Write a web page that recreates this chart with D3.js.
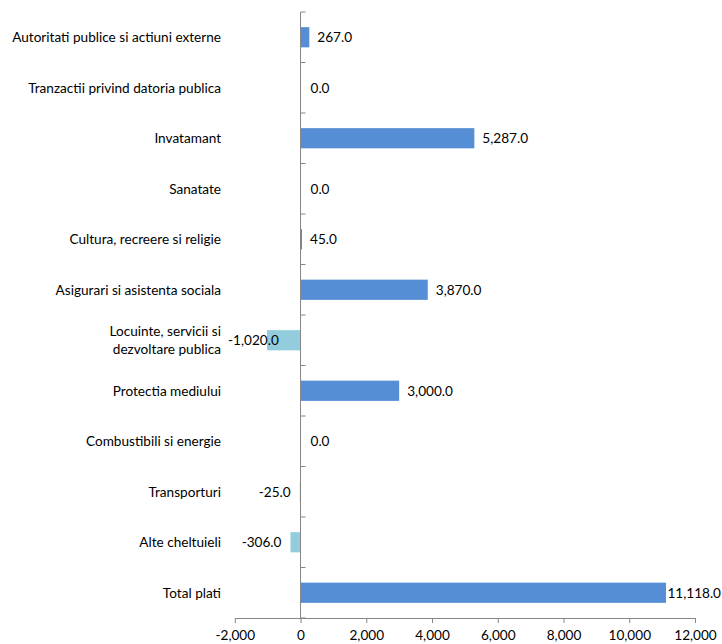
<!DOCTYPE html>
<html><head><meta charset="utf-8">
<script src="https://cdn.jsdelivr.net/npm/d3@7"></script>
<style>body{margin:0;background:#fff}svg{display:block}</style>
</head><body>
<svg id="c" width="722" height="644"></svg>
<script>
const categories = ["Autoritati publice si actiuni externe","Tranzactii privind datoria publica","Invatamant","Sanatate","Cultura, recreere si religie ","Asigurari si asistenta sociala","Locuinte, servicii si|dezvoltare publica","Protectia mediului","Combustibili si energie","Transporturi","Alte cheltuieli","Total plati"];
const values = [267,0,5287,0,45,3870,-1020,3000,0,-25,-306,11118];
const xTicks = [-2000,0,2000,4000,6000,8000,10000,12000];

(function(){
const FONT = "Lato, 'Open Sans', sans-serif";
const FS = 13.6;
const svg = d3.select("#c");
const x = d3.scaleLinear().domain([-2000,12000]).range([234.8,695]);
const y = d3.scaleBand().domain(d3.range(categories.length)).range([12,618]).paddingInner(0.6).paddingOuter(0.3);
const grey = "#868686";
const fmt = v => d3.format(",.1f")(v).replace("\u2212","-");
const fmtT = v => d3.format(",")(v).replace("\u2212","-");

svg.append("g").selectAll("rect").data(values).join("rect")
  .attr("x", d => x(Math.min(0,d)))
  .attr("width", d => Math.abs(x(d)-x(0)))
  .attr("y", (d,i) => y(i))
  .attr("height", y.bandwidth())
  .attr("fill", d => d < 0 ? "#93CDDD" : "#558ED5");

const y0 = 12, y1 = 618;
svg.append("line").attr("x1",x(0)).attr("x2",x(0)).attr("y1",y0).attr("y2",y1).attr("stroke",grey);
const step = (y1-y0)/categories.length;
svg.append("g").selectAll("line").data(d3.range(categories.length+1)).join("line")
  .attr("x1",x(0)).attr("x2",x(0)+5)
  .attr("y1",i=>y0+i*step).attr("y2",i=>y0+i*step).attr("stroke",grey);

const xa = svg.append("g").attr("transform",`translate(0,${y1})`)
  .call(d3.axisBottom(x).tickValues(xTicks).tickSize(5).tickSizeOuter(0).tickFormat(fmtT));
xa.select(".domain").attr("stroke",grey);
xa.selectAll(".tick line").attr("stroke",grey);
xa.selectAll("text").attr("fill","#000").attr("font-size",FS).attr("font-family",FONT).attr("dy","1.0em");

const cl = svg.append("g").selectAll("text").data(categories).join("text")
  .attr("text-anchor","end").attr("font-size",FS).attr("font-family",FONT).attr("fill","#000")
  .attr("x",221).attr("y",(d,i)=>y(i)+y.bandwidth()/2);
cl.each(function(d){
  const lines = d.split("|");
  const t = d3.select(this);
  lines.forEach((ln,k)=>{
    t.append("tspan").attr("x",221)
     .attr("dy", k===0 ? ((0.35 - (lines.length-1)*0.65)+"em") : "1.3em")
     .text(ln);
  });
});

const vl = svg.append("g").selectAll("text").data(values).join("text")
  .attr("font-size",FS).attr("font-family",FONT).attr("fill","#000")
  .attr("y",(d,i)=>y(i)+y.bandwidth()/2).attr("dy","0.35em")
  .text(d=>fmt(d));
vl.each(function(d){
  const w = this.getComputedTextLength();
  let px;
  if (d < 0) px = Math.max(x(d)-9-w, 228);
  else px = Math.min(x(d) + (d===0 ? 10 : 8), 721 - w);
  d3.select(this).attr("x",px);
});
})();
</script>
</body></html>
